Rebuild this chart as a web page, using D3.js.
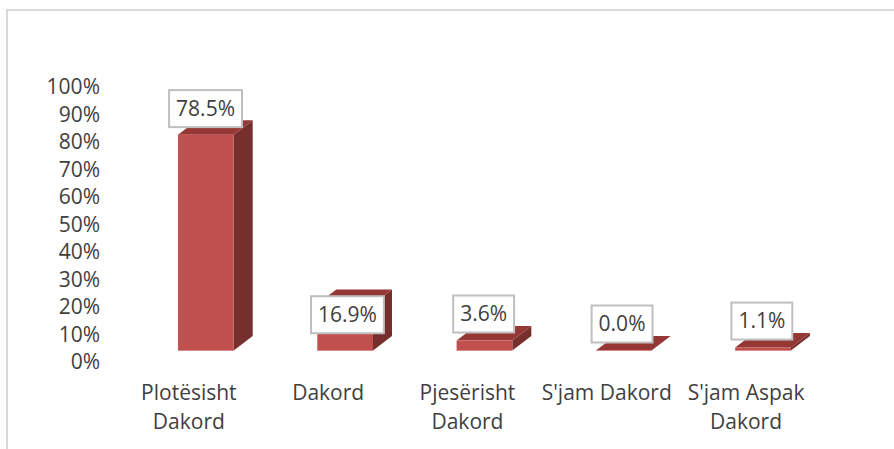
<!DOCTYPE html>
<html><head><meta charset="utf-8">
<script src="https://cdn.jsdelivr.net/npm/d3@7/dist/d3.min.js"></script>
<style>html,body{margin:0;padding:0;background:#fff}svg{display:block}
text{font-family:"Open Sans",sans-serif;fill:#404040}</style></head>
<body><svg id="c" width="894" height="449"></svg>
<script>
const categories = [["Plotësisht","Dakord"],["Dakord"],["Pjesërisht","Dakord"],["S'jam Dakord"],["S'jam Aspak","Dakord"]];
const values = [78.5,16.9,3.6,0.0,1.1];
const valueLabels = ["78.5%","16.9%","3.6%","0.0%","1.1%"];
const yTicks = [0,10,20,30,40,50,60,70,80,90,100];

const svg = d3.select("#c");
const W=894,H=449, fs=21, depthX=19, depthY=14.5;
svg.append("path").attr("d",`M7,${H}V10H${W}`).attr("fill","none").attr("stroke","#d9d9d9").attr("stroke-width",2);

const x = d3.scaleBand().domain(d3.range(values.length)).range([136.2,832.7]).paddingInner(0.6).paddingOuter(0.3);
const y = d3.scaleLinear().domain([0,100]).range([350.5,75.5]);

const axis = d3.axisLeft(y).tickValues(yTicks).tickFormat(d=>d+"%").tickSize(0).tickPadding(0);
const ag = svg.append("g").attr("transform","translate(100,11.5)").call(axis);
ag.select(".domain").remove();
ag.selectAll("text").style("font-size",fs+"px").style("font-family",'"Open Sans",sans-serif').attr("fill","#404040");

const bars = svg.selectAll("g.bar").data(values).join("g").attr("class","bar");
const bw = x.bandwidth();
const pts = a=>a.map(p=>p.join(",")).join(" ");
bars.append("polygon").attr("fill","#772f2d").attr("points",(d,i)=>{const l=x(i)+bw,t=y(d),b=y(0);
  return pts([[l,t],[l+depthX,t-depthY],[l+depthX,b-depthY],[l,b]]);});
bars.append("polygon").attr("fill","#953735").attr("points",(d,i)=>{const l=x(i),t=y(d);
  return pts([[l,t],[l+depthX,t-depthY],[l+bw+depthX,t-depthY],[l+bw,t]]);});
bars.append("rect").attr("x",(d,i)=>x(i)).attr("y",d=>y(d)).attr("width",bw).attr("height",d=>y(0)-y(d))
  .attr("fill","#c0504d");
bars.append("line").attr("x1",(d,i)=>x(i)).attr("x2",(d,i)=>x(i)+bw).attr("y1",y(0)).attr("y2",y(0))
  .attr("stroke","#d98b89").attr("stroke-width",1);

// manual placement shifts of the value labels, as placed in the original
const labelShift = [[-0.3,-26],[2.3,10.7],[-0.8,-26.6],[-1.7,-26.5],[-1.2,-26.4]];
const lab = svg.selectAll("g.lab").data(values).join("g").attr("class","lab")
  .attr("transform",(d,i)=>`translate(${x(i)+bw/2+labelShift[i][0]},${y(d)+labelShift[i][1]})`);
lab.append("rect").attr("fill","#fff").attr("stroke","#bfbfbf").attr("stroke-width",2);
const txt = lab.append("text").attr("text-anchor","middle").attr("dy","0.35em").style("font-size",fs+"px").text((d,i)=>valueLabels[i]);
txt.each(function(d,i){const w=this.getComputedTextLength()+14;
  d3.select(this.parentNode).select("rect").attr("x",-w/2).attr("y",-18.5).attr("width",w).attr("height",37);});

const cat = svg.selectAll("text.cat").data(categories).join("text").attr("class","cat")
  .attr("text-anchor","middle").style("font-size",fs+"px")
  .attr("transform",(d,i)=>`translate(${x(i)+bw/2-17},399.5)`);
cat.selectAll("tspan").data(d=>d).join("tspan").attr("x",0).attr("y",(d,j)=>j*29).text(d=>d);
</script></body></html>
